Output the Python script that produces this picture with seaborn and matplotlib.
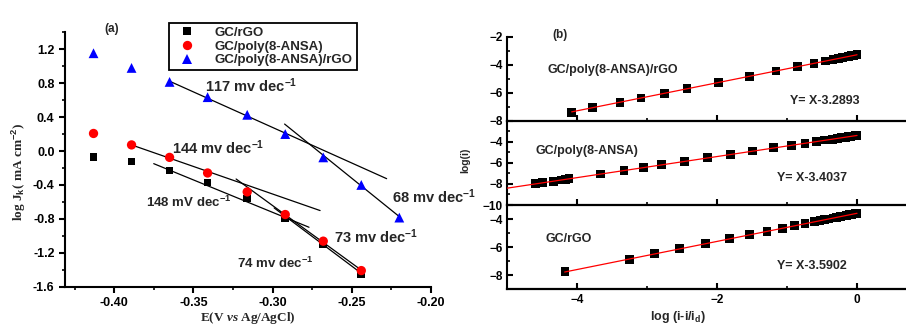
import numpy as np
import pandas as pd
import matplotlib
matplotlib.use("Agg")
import matplotlib.pyplot as plt
import seaborn as sns
from matplotlib.ticker import MultipleLocator, FixedLocator

# ---------------- data: panel (a) ----------------
E_vals = [-0.413, -0.389, -0.365, -0.341, -0.316, -0.292, -0.268, -0.244, -0.220]
rgo_logJ = [-0.067, -0.125, -0.228, -0.373, -0.558, -0.797, -1.094, -1.447]
poly_logJ = [0.207, 0.072, -0.075, -0.259, -0.482, -0.749, -1.063, -1.410]
comp_logJ = [1.153, 0.980, 0.815, 0.635, 0.427, 0.200, -0.075, -0.400, -0.785]
series_names = ["GC/rGO", "GC/poly(8-ANSA)", "GC/poly(8-ANSA)/rGO"]

# Tafel fit segments (start/end)
seg_x0 = [-0.364, -0.2924, -0.389, -0.375, -0.323, -0.299]
seg_y0 = [0.815, 0.318, 0.072, -0.149, -0.330, -0.671]
seg_x1 = [-0.228, -0.2195, -0.270, -0.277, -0.2436, -0.2436]
seg_y1 = [-0.326, -0.781, -0.702, -0.899, -1.410, -1.447]
slope_labels = ["117 mv dec$^{-1}$", "68 mv dec$^{-1}$", "144 mv dec$^{-1}$",
                "148 mV dec$^{-1}$", "73 mv dec$^{-1}$", "74 mv dec$^{-1}$"]

# ---------------- data: panel (b) ----------------
b_top_x = [-4.08, -3.786, -3.39, -3.09, -2.75, -2.43, -1.986, -1.543, -1.16, -0.851,
           -0.614, -0.45, -0.343, -0.27, -0.21, -0.16, -0.12, -0.08, -0.05, -0.025, -0.01, 0.0]
b_top_y = [-7.40, -7.07, -6.69, -6.38, -6.05, -5.71, -5.26, -4.83, -4.45, -4.14,
           -3.90, -3.74, -3.62, -3.56, -3.50, -3.45, -3.41, -3.37, -3.34, -3.31, -3.30, -3.29]
b_mid_x = [-4.594, -4.494, -4.343, -4.233, -4.166, -4.119, -3.666, -3.333, -3.057, -2.79,
           -2.471, -2.143, -1.804, -1.494, -1.19, -0.937, -0.743, -0.58, -0.461,
           -0.35, -0.28, -0.22, -0.17, -0.13, -0.09, -0.06, -0.03, -0.01, 0.0]
b_mid_y = [-7.98, -7.89, -7.75, -7.63, -7.56, -7.52, -7.06, -6.74, -6.44, -6.18,
           -5.89, -5.52, -5.20, -4.88, -4.58, -4.34, -4.14, -3.97, -3.84,
           -3.75, -3.68, -3.62, -3.57, -3.53, -3.49, -3.46, -3.43, -3.41, -3.40]
b_bot_x = [-4.176, -3.257, -2.89, -2.533, -2.161, -1.819, -1.533, -1.286, -1.066, -0.89,
           -0.743, -0.604, -0.53, -0.46, -0.40, -0.34, -0.29, -0.24, -0.19, -0.15,
           -0.11, -0.08, -0.05, -0.03, -0.01, 0.0]
b_bot_y = [-7.76, -6.86, -6.46, -6.12, -5.75, -5.40, -5.11, -4.87, -4.65, -4.48,
           -4.32, -4.19, -4.12, -4.05, -3.99, -3.93, -3.88, -3.83, -3.78, -3.74,
           -3.70, -3.67, -3.64, -3.62, -3.60, -3.59]
fit_top = ([-4.08, 0.0], [-7.37, -3.29])
fit_mid = ([-5.0, 0.0], [-8.40, -3.40])
fit_bot = ([-4.18, 0.0], [-7.77, -3.59])
b_names = ["GC/poly(8-ANSA)/rGO", "GC/poly(8-ANSA)", "GC/rGO"]
b_eqs = ["Y= X-3.2893", "Y= X-3.4037", "Y= X-3.5902"]

# ---------------- style ----------------
sns.set_style("ticks")
plt.rcParams.update({
    "font.family": ["Liberation Sans", "DejaVu Sans"],
    "font.weight": "bold",
    "axes.labelweight": "bold",
    "mathtext.fontset": "custom",
    "mathtext.bf": "Liberation Sans:bold",
    "mathtext.rm": "Liberation Sans:bold",
    "mathtext.it": "Liberation Serif:italic:bold",
    "mathtext.default": "bf",
    "axes.linewidth": 1.5,
    "axes.edgecolor": "black",
    "xtick.color": "black",
    "ytick.color": "black",
})

W, H = 906, 327
fig = plt.figure(figsize=(W / 100, H / 100), dpi=100)
fig.patch.set_facecolor("white")

def fbox(l, t, r, b):
    return [l / W, 1 - b / H, (r - l) / W, (b - t) / H]

# ================= panel (a) =================
axa = fig.add_axes(fbox(65, 32.3, 431, 286.7))
rows = []
for name, vals in zip(series_names, [rgo_logJ, poly_logJ, comp_logJ]):
    for e, v in zip(E_vals, vals):
        rows.append({"E": e, "logJ": v, "series": name})
dfa = pd.DataFrame(rows)

seg_rows = []
for i in range(len(seg_x0)):
    seg_rows.append({"x": seg_x0[i], "y": seg_y0[i], "seg": i})
    seg_rows.append({"x": seg_x1[i], "y": seg_y1[i], "seg": i})
dseg = pd.DataFrame(seg_rows)
sns.lineplot(data=dseg, x="x", y="y", units="seg", estimator=None, sort=False,
             color="black", lw=0.9, ax=axa, legend=False)

palette = {series_names[0]: "black", series_names[1]: "#ff0000", series_names[2]: "#0000ff"}
markers = {series_names[0]: "s", series_names[1]: "o", series_names[2]: "^"}
sizes = {series_names[0]: 30, series_names[1]: 45, series_names[2]: 50}
sns.scatterplot(data=dfa, x="E", y="logJ", hue="series", style="series",
                palette=palette, markers=markers, size="series", sizes=sizes,
                hue_order=series_names, style_order=series_names, size_order=series_names,
                edgecolor="none", linewidth=0, ax=axa, zorder=3, legend=True)

handles, labels = axa.get_legend_handles_labels()
hl = [(h, l) for h, l in zip(handles, labels) if l in series_names]
leg = axa.legend([h for h, _ in hl], [l for _, l in hl], loc="upper left",
                 bbox_to_anchor=(0.265, 1.064), frameon=True, fancybox=False,
                 edgecolor="black", framealpha=1, prop={"weight": "bold", "size": 9.5},
                 handletextpad=1.0, borderpad=0.3, labelspacing=0.12, handlelength=2.2,
                 markerscale=1.0)
leg.get_frame().set_linewidth(1.3)

axa.set_xlim(-0.431, -0.20)
axa.set_ylim(-1.6, 1.4)
axa.xaxis.set_major_locator(FixedLocator([-0.40, -0.35, -0.30, -0.25, -0.20]))
axa.xaxis.set_minor_locator(MultipleLocator(0.025))
axa.yaxis.set_major_locator(FixedLocator([-1.6, -1.2, -0.8, -0.4, 0.0, 0.4, 0.8, 1.2]))
axa.yaxis.set_minor_locator(MultipleLocator(0.2))
axa.xaxis.set_major_formatter(matplotlib.ticker.FuncFormatter(lambda v, p: f"{v:.2f}"))
axa.yaxis.set_major_formatter(matplotlib.ticker.FuncFormatter(lambda v, p: f"{v:.1f}"))
axa.tick_params(which="major", direction="out", length=4, width=1.5, labelsize=9)
axa.tick_params(which="minor", direction="out", length=2.5, width=1.2)
sns.despine(ax=axa)
axa.set_xlabel(r"E(V $\mathit{vs}$ Ag/AgCl)", family="Liberation Serif", weight="bold", fontsize=9.5)
axa.set_ylabel(r"log J$_\mathbf{k}$( mA cm$^{\mathbf{-2}}$)", family="Liberation Serif",
               weight="bold", fontsize=9.5)
axa.xaxis.set_label_coords(0.5, -0.09)
axa.yaxis.set_label_coords(-0.10, 0.45)

txt_pos = [(-0.3425, 0.70, 10.5), (-0.2246, -0.612, 10.5), (-0.3634, -0.035, 10.5),
           (-0.380, -0.664, 9.5), (-0.2613, -1.083, 10.5), (-0.3222, -1.385, 9.5)]
for lab, (tx, ty, fs) in zip(slope_labels, txt_pos):
    axa.text(tx, ty, lab, fontsize=fs, weight="bold", ha="left", va="baseline", clip_on=False)
fig.text(104 / W, 1 - 29 / H, "(a)", fontsize=8.5, weight="bold", ha="left", va="center")

# ================= panel (b) =================
bl, br = 507.3, 906
bounds = [(36.7, 120.7), (120.7, 205), (205, 289.3)]
ylims = [(-8, -2), (-10, -2), (-9, -3)]
yticks = [[-8, -6, -4, -2], [-10, -8, -6, -4], [-8, -6, -4]]
bx = [b_top_x, b_mid_x, b_bot_x]
by = [b_top_y, b_mid_y, b_bot_y]
fits = [fit_top, fit_mid, fit_bot]
name_pos = [(-4.42, -4.38), (-4.59, -4.85), (-4.46, -5.41)]
eq_pos = [(-0.964, -6.57), (-1.147, -7.41), (-1.147, -7.34)]
axes_b = []
for k in range(3):
    t, b = bounds[k]
    ax = fig.add_axes(fbox(bl, t, br, b))
    ax.patch.set_alpha(0)
    dfp = pd.DataFrame({"x": bx[k], "y": by[k]})
    sns.scatterplot(data=dfp, x="x", y="y", marker="s", s=40, color="black",
                    edgecolor="none", linewidth=0, ax=ax, zorder=2)
    dff = pd.DataFrame({"x": fits[k][0], "y": fits[k][1]})
    sns.lineplot(data=dff, x="x", y="y", color="#ff0000", lw=0.9, ax=ax, zorder=3,
                 estimator=None, sort=False)
    ax.set_xlim(-5.0, 0.70)
    ax.set_ylim(*ylims[k])
    ax.yaxis.set_major_locator(FixedLocator(yticks[k]))
    ax.yaxis.set_minor_locator(MultipleLocator(1))
    ax.xaxis.set_major_locator(FixedLocator([-4, -2, 0]))
    ax.xaxis.set_minor_locator(FixedLocator([-3, -1]))
    ax.tick_params(which="major", direction="in", length=4, width=1.5, labelsize=8.5)
    ax.tick_params(which="minor", direction="in", length=2.5, width=1.2)
    sns.despine(ax=ax)
    ax.spines["bottom"].set_linewidth(1.6)
    ax.set_xlabel("")
    ax.set_ylabel("")
    if k < 2:
        ax.tick_params(axis="x", labelbottom=False)
    ax.text(name_pos[k][0], name_pos[k][1], b_names[k], fontsize=9, weight="bold",
            ha="left", va="center")
    ax.text(eq_pos[k][0], eq_pos[k][1], b_eqs[k], fontsize=9, weight="bold",
            ha="left", va="center")
    axes_b.append(ax)

axes_b[0].text(-4.35, -1.88, "(b)", fontsize=8.5, weight="bold", ha="left", va="center",
               clip_on=False)
axes_b[1].set_ylabel("log(i)", fontsize=7.5, weight="bold")
axes_b[1].yaxis.set_label_coords(-0.094, 0.534)
axes_b[2].set_xlabel(r"log (i-i/i$_\mathbf{d}$)", fontsize=9, weight="bold")
axes_b[2].xaxis.set_label_coords(0.428, -0.235)

fig.savefig("out.png", dpi=100, facecolor="white")
